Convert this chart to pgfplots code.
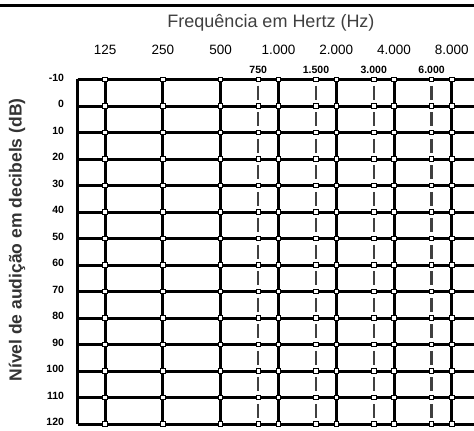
\documentclass[border=0pt]{standalone}
\usepackage{fontspec}
\setmainfont{Liberation Sans}
\usepackage{pgfplots}
\pgfplotsset{compat=1.18}
\begin{document}
\begin{tikzpicture}
\useasboundingbox (0pt,0pt) rectangle (474pt,431pt);
\fill[white] (0pt,0pt) rectangle (474pt,431pt);
\begin{axis}[
  at={(77.5pt,7pt)}, anchor=south west,
  scale only axis, width=396.5pt, height=344.5pt,
  xmin=-0.476, xmax=6.384, ymin=-10, ymax=120, y dir=reverse,
  axis x line*=top, axis y line*=left,
  axis line style={line width=3.5pt, black, -},
  xtick={0,1,2,3,4,5,6},
  xticklabels={125,250,500,1.000,2.000,4.000,8.000},
  extra x ticks={2.65,3.65,4.65,5.65},
  extra x tick labels={750,1.500,3.000,6.000},
  extra x tick style={grid=major,
     major grid style={black!75, line width=2.5pt, dash pattern=on 14pt off 12.5pt, dash phase=20.25pt},
     xticklabel style={font=\bfseries\fontsize{10.5}{11}\selectfont, yshift=-18.5pt}},
  xmajorgrids, ymajorgrids,
  major grid style={black, line width=3pt},
  ytick={-10,0,10,20,30,40,50,60,70,80,90,100,110,120},
  yticklabels={-10,0,10,20,30,40,50,60,70,80,90,100,110,120},
  major tick length=0pt,
  yticklabel style={font=\bfseries\fontsize{10.5}{11}\selectfont, xshift=-10pt, yshift=2pt},
  xticklabel style={font=\fontsize{13.5}{15}\selectfont, yshift=21pt},
  clip=false,
]
\pgfplotsinvokeforeach{0,1,2,2.65,3,3.65,4,4.65,5,5.65,6}{
\addplot[only marks, mark=square*, mark size=2.2pt, mark options={fill=white, draw=black, line width=0.7pt}]
  coordinates {(#1,-10) (#1,0) (#1,10) (#1,20) (#1,30) (#1,40) (#1,50) (#1,60) (#1,70) (#1,80) (#1,90) (#1,100) (#1,110) (#1,120)};
}
\end{axis}
\draw[line width=3pt] (0pt,425.7pt) -- (474pt,425.7pt);
\node[font=\fontsize{18}{21}\selectfont, text=black!75] at (271pt,408pt) {Frequência em Hertz (Hz)};
\node[rotate=90, font=\bfseries\fontsize{17.5}{20}\selectfont, text=black!80] at (17pt,191pt) {Nível de audição em decibels (dB)};
\end{tikzpicture}
\end{document}
